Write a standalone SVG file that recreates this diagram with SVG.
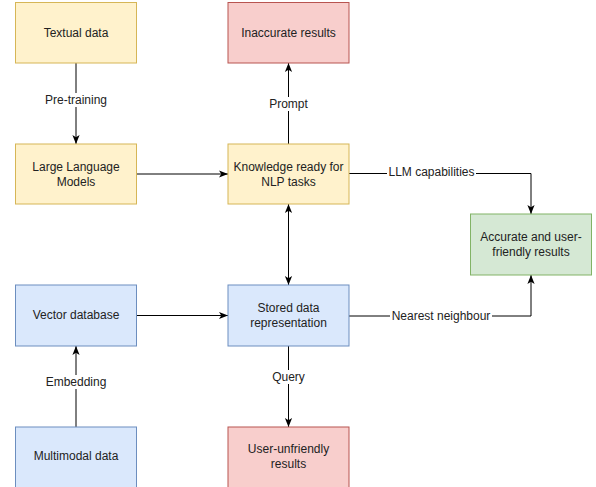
<svg xmlns="http://www.w3.org/2000/svg" width="596" height="487" viewBox="0 0 596 487">
<defs>
<marker id="arr" viewBox="0 0 10 10" markerUnits="userSpaceOnUse" markerWidth="9" markerHeight="9" refX="10" refY="5" orient="auto-start-reverse">
<path d="M0,1 L10,5 L0,9 L2.5,5 Z" fill="#000"/>
</marker>
<style>
text{font-family:"Liberation Sans",Arial,sans-serif;font-size:12px;fill:#222;text-anchor:middle;dominant-baseline:central}
.y{fill:#fff2cc;stroke:#d6b656}
.r{fill:#f8cecc;stroke:#b85450}
.b{fill:#dae8fc;stroke:#6c8ebf}
.g{fill:#d5e8d4;stroke:#82b366}
.e{fill:none;stroke:#000;stroke-width:1}
.lb{fill:#fff}
</style>
</defs>
<rect width="596" height="487" fill="#fff"/>
<g id="connectors">
<path class="e" d="M76,63 V144" marker-end="url(#arr)"/>
<rect class="lb" x="40" y="93" width="72" height="14"/>
<text x="76" y="100">Pre-training</text>
<path class="e" d="M136.5,174 H228" marker-end="url(#arr)"/>
<path class="e" d="M288.5,144 V63" marker-end="url(#arr)"/>
<rect class="lb" x="268" y="97" width="41" height="14"/>
<text x="288.5" y="104">Prompt</text>
<path class="e" d="M288.5,204 V285" marker-start="url(#arr)" marker-end="url(#arr)"/>
<path class="e" d="M349,173.5 H531 V214" marker-end="url(#arr)"/>
<rect class="lb" x="387" y="165" width="89" height="14"/>
<text x="431.5" y="172">LLM capabilities</text>
<path class="e" d="M349,316 H531 V275" marker-end="url(#arr)"/>
<rect class="lb" x="390" y="309" width="102" height="14"/>
<text x="441" y="316">Nearest neighbour</text>
<path class="e" d="M136.5,315.5 H228" marker-end="url(#arr)"/>
<path class="e" d="M76,427 V346" marker-end="url(#arr)"/>
<rect class="lb" x="46" y="375" width="60" height="14"/>
<text x="76" y="382">Embedding</text>
<path class="e" d="M288.5,346 V427" marker-end="url(#arr)"/>
<rect class="lb" x="270" y="370" width="37" height="14"/>
<text x="288.5" y="377">Query</text>
</g>
<g id="textual-data"><rect class="y" x="15.5" y="2.5" width="121" height="60.5"/><text x="76" y="32.5">Textual data</text></g>
<g id="inaccurate-results"><rect class="r" x="228" y="2.5" width="121" height="60.5"/><text x="288.5" y="32.5">Inaccurate results</text></g>
<g id="llm"><rect class="y" x="15.5" y="144" width="121" height="60"/><text x="76" y="166.5">Large Language</text><text x="76" y="181.5">Models</text></g>
<g id="knowledge"><rect class="y" x="228" y="144" width="121" height="60"/><text x="288.5" y="166.5">Knowledge ready for</text><text x="288.5" y="181.5">NLP tasks</text></g>
<g id="accurate-results"><rect class="g" x="470.5" y="214" width="121" height="61"/><text x="531" y="237">Accurate and user-</text><text x="531" y="252">friendly results</text></g>
<g id="vector-database"><rect class="b" x="15.5" y="285" width="121" height="61"/><text x="76" y="315">Vector database</text></g>
<g id="stored-data"><rect class="b" x="228" y="285" width="121" height="61"/><text x="288.5" y="308">Stored data</text><text x="288.5" y="323">representation</text></g>
<g id="multimodal-data"><rect class="b" x="15.5" y="427" width="121" height="61"/><text x="76" y="456">Multimodal data</text></g>
<g id="user-unfriendly"><rect class="r" x="228" y="427" width="121" height="61"/><text x="288.5" y="449">User-unfriendly</text><text x="288.5" y="464">results</text></g>
</svg>
